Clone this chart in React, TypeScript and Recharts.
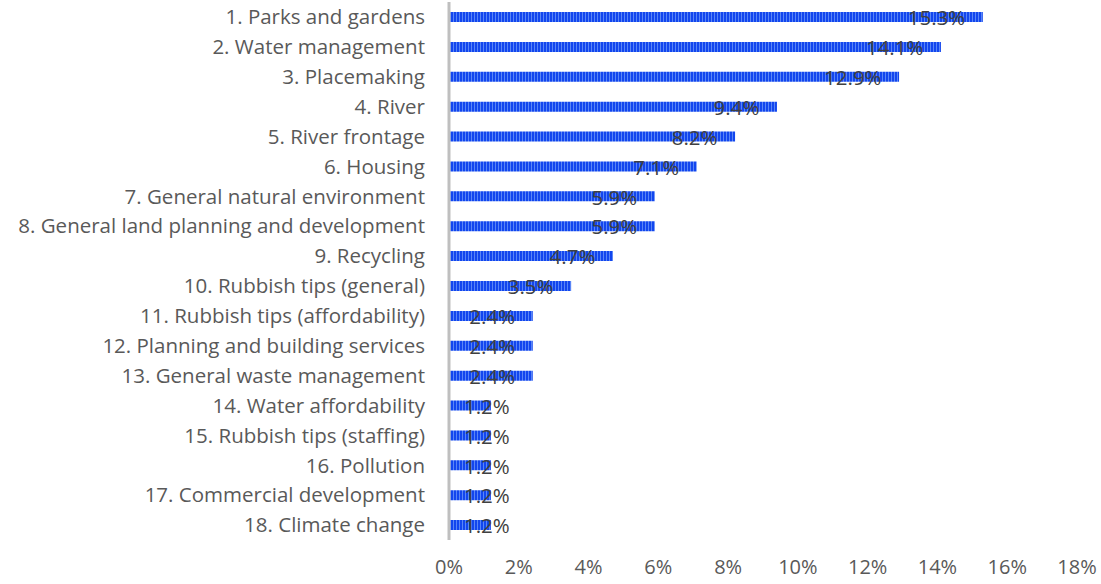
import { BarChart, Bar, XAxis, YAxis } from "recharts";

const topics = [
  "1. Parks and gardens",
  "2. Water management",
  "3. Placemaking",
  "4. River",
  "5. River frontage",
  "6. Housing",
  "7. General natural environment",
  "8. General land planning and development",
  "9. Recycling",
  "10. Rubbish tips (general)",
  "11. Rubbish tips (affordability)",
  "12. Planning and building services",
  "13. General waste management",
  "14. Water affordability",
  "15. Rubbish tips (staffing)",
  "16. Pollution",
  "17. Commercial development",
  "18. Climate change",
];

const shares = [15.3, 14.1, 12.9, 9.4, 8.2, 7.1, 5.9, 5.9, 4.7, 3.5, 2.4, 2.4, 2.4, 1.2, 1.2, 1.2, 1.2, 1.2];

const xTicks = [0, 2, 4, 6, 8, 10, 12, 14, 16, 18];

const rows = topics.map((topic, i) => ({ topic, share: shares[i] }));

const FONT = "'Open Sans', Lato, sans-serif";

// Excel-ish label: sits a bit inside the bar end, but never closer than ~15px to the axis
function ShareLabel(props: any) {
  const { x, y, width, height, value } = props;
  const text = `${Number(value).toFixed(1)}%`;
  const w = text.length * 11.6;
  const left = Math.max(x + 15, x + width - 17 - w);
  return (
    <text x={left} y={y + height / 2} dy="0.4em" fill="#404040" fontSize={20.5} fontFamily={FONT}>
      {text}
    </text>
  );
}

export default function App() {
  return (
    <div style={{ position: "absolute", left: 0, top: 0, background: "#fff", width: 1101, height: 584 }}>
      <BarChart
        width={1101}
        height={584}
        data={rows}
        layout="vertical"
        margin={{ top: 2, right: 24, bottom: 0, left: 0 }}
      >
        <defs>
          <pattern id="stripes" patternUnits="userSpaceOnUse" width={3} height={10}>
            <rect width={3} height={10} fill="#1246ee" />
            <rect width={1} height={10} fill="#5a86f6" />
          </pattern>
        </defs>
        <XAxis
          type="number"
          domain={[0, 18]}
          ticks={xTicks}
          tickFormatter={(v) => `${v}%`}
          axisLine={false}
          tickLine={false}
          tickMargin={14}
          height={44}
          tick={{ fill: "#595959", fontSize: 20, fontFamily: FONT }}
        />
        <YAxis
          type="category"
          dataKey="topic"
          width={449}
          interval={0}
          tickLine={false}
          tickMargin={18}
          axisLine={{ stroke: "#bfbfbf", strokeWidth: 3 }}
          tick={{ fill: "#595959", fontSize: 20.5, fontFamily: FONT }}
        />
        <Bar dataKey="share" fill="url(#stripes)" barSize={10} isAnimationActive={false} label={ShareLabel} />
      </BarChart>
    </div>
  );
}
